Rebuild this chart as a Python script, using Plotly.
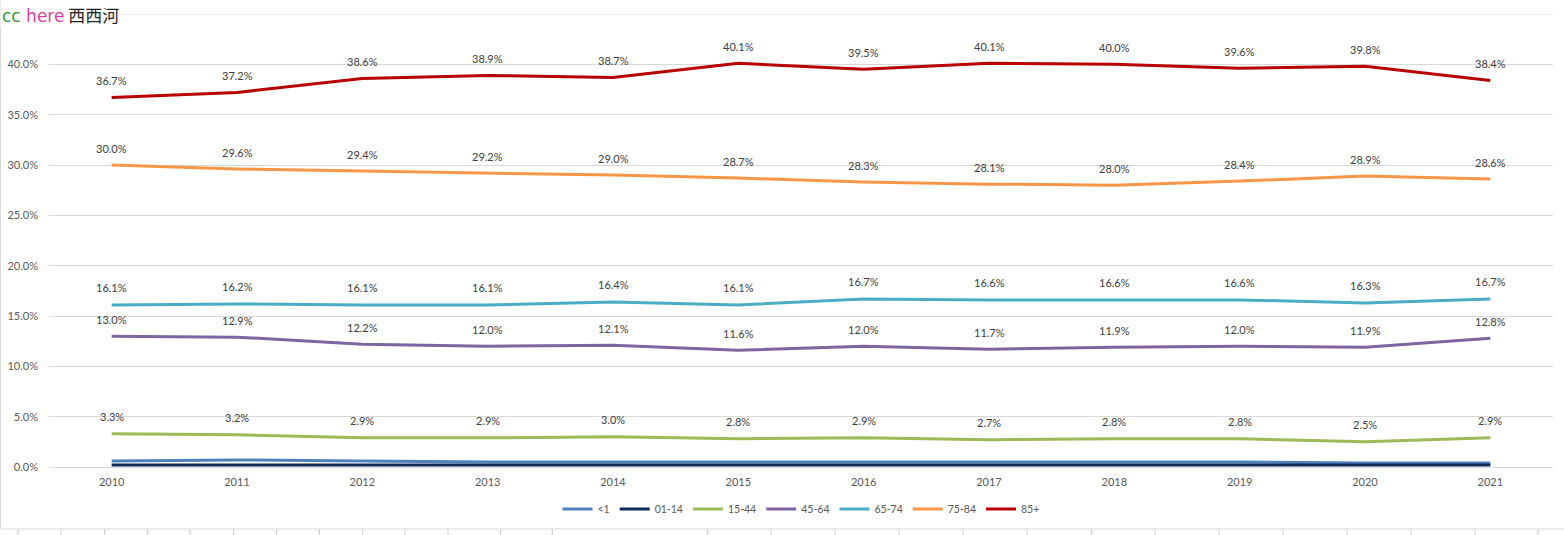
import plotly.graph_objects as go

years = [2010, 2011, 2012, 2013, 2014, 2015, 2016, 2017, 2018, 2019, 2020, 2021]
series_names = ["<1", "01-14", "15-44", "45-64", "65-74", "75-84", "85+"]
v_lt1 = [0.6, 0.7, 0.6, 0.5, 0.5, 0.5, 0.5, 0.5, 0.5, 0.5, 0.4, 0.4]
v_01_14 = [0.2, 0.2, 0.2, 0.2, 0.2, 0.2, 0.2, 0.2, 0.2, 0.2, 0.2, 0.2]
v_15_44 = [3.3, 3.2, 2.9, 2.9, 3.0, 2.8, 2.9, 2.7, 2.8, 2.8, 2.5, 2.9]
v_45_64 = [13.0, 12.9, 12.2, 12.0, 12.1, 11.6, 12.0, 11.7, 11.9, 12.0, 11.9, 12.8]
v_65_74 = [16.1, 16.2, 16.1, 16.1, 16.4, 16.1, 16.7, 16.6, 16.6, 16.6, 16.3, 16.7]
v_75_84 = [30.0, 29.6, 29.4, 29.2, 29.0, 28.7, 28.3, 28.1, 28.0, 28.4, 28.9, 28.6]
v_85p = [36.7, 37.2, 38.6, 38.9, 38.7, 40.1, 39.5, 40.1, 40.0, 39.6, 39.8, 38.4]
labelled = [False, False, True, True, True, True, True]
colors = ["#4F81BD", "#0E2A5E", "#9BBB59", "#8064A2", "#4BACC6", "#F79646", "#B80000"]
y_ticks = [0, 5, 10, 15, 20, 25, 30, 35, 40]
y_max = 45

all_values = [v_lt1, v_01_14, v_15_44, v_45_64, v_65_74, v_75_84, v_85p]

W, H = 1564, 535
ML, MR, MT, MB = 49, 11, 14, 68
PW, PH = W - ML - MR, H - MT - MB

def px_to_paper_x(px):
    return (px - ML) / PW

def px_to_paper_y(py):
    return (H - MB - py) / PH

FONT = "Lato, 'Open Sans', sans-serif"

fig = go.Figure()
for name, vals, col in zip(series_names, all_values, colors):
    fig.add_trace(go.Scatter(
        x=years, y=[v / 100 for v in vals], name=name, mode="lines",
        line=dict(color=col, width=3), hoverinfo="skip"))

annotations = []
for vals, lab in zip(all_values, labelled):
    if not lab:
        continue
    for x, v in zip(years, vals):
        annotations.append(dict(
            x=x, y=v / 100, xref="x", yref="y", text=f"{v:.1f}%",
            showarrow=False, yshift=17,
            font=dict(family=FONT, size=11, color="#404040")))

# watermark
annotations.append(dict(
    x=px_to_paper_x(0), y=px_to_paper_y(0), xref="paper", yref="paper",
    xanchor="left", yanchor="top", showarrow=False, bgcolor="white",
    borderpad=1,
    text=("<span style='color:#3a9a3a'>cc</span>"
          "<span style='color:#e0409a'> here</span>"
          "<span style='color:#222222;font-family:\"Noto Sans CJK SC\"'> 西西河</span>"),
    font=dict(family="DejaVu Sans, sans-serif", size=17)))

shapes = []
line_col = "#d9d9d9"
# top gridline at the axis maximum
shapes.append(dict(type="line", xref="paper", yref="y",
                   x0=px_to_paper_x(118), x1=1, y0=y_max / 100, y1=y_max / 100,
                   line=dict(color=line_col, width=1), layer="below"))
# outer frame (left, bottom)
shapes.append(dict(type="line", xref="paper", yref="paper",
                   x0=px_to_paper_x(0.5), x1=px_to_paper_x(0.5),
                   y0=px_to_paper_y(0), y1=px_to_paper_y(529),
                   line=dict(color=line_col, width=1)))
shapes.append(dict(type="line", xref="paper", yref="paper",
                   x0=px_to_paper_x(0), x1=px_to_paper_x(W),
                   y0=px_to_paper_y(529), y1=px_to_paper_y(529),
                   line=dict(color=line_col, width=1)))
cell_ticks = [18, 61, 104.7, 147.7, 190, 233.7, 276.7, 319.3, 362.7, 405, 448, 500.7,
              552.3, 707.7, 771, 835, 899, 963, 1027, 1091.7, 1155, 1219, 1283,
              1347, 1411, 1475, 1538]
for t in cell_ticks:
    shapes.append(dict(type="line", xref="paper", yref="paper",
                       x0=px_to_paper_x(t), x1=px_to_paper_x(t),
                       y0=px_to_paper_y(529), y1=px_to_paper_y(535),
                       line=dict(color="#c8c8c8", width=1)))

fig.update_layout(
    width=W, height=H,
    margin=dict(l=ML, r=MR, t=MT, b=MB, autoexpand=False),
    paper_bgcolor="white", plot_bgcolor="white",
    font=dict(family=FONT, size=11, color="#595959"),
    xaxis=dict(range=[2009.5, 2021.5], tickvals=years, ticktext=[str(y) for y in years],
               showgrid=False, zeroline=False, showline=True, linecolor="#d9d9d9",
               ticks="", ticklabelstandoff=5,
               tickfont=dict(family=FONT, size=11, color="#595959")),
    yaxis=dict(range=[0, y_max / 100], tickvals=[t / 100 for t in y_ticks], tickformat=".1%",
               showgrid=True, gridcolor="#d9d9d9", gridwidth=1, zeroline=False,
               showline=False, ticks="", ticklabelstandoff=10,
               tickfont=dict(family=FONT, size=11, color="#595959")),
    legend=dict(orientation="h", x=0.5, xanchor="center",
                y=px_to_paper_y(509), yanchor="middle",
                font=dict(family=FONT, size=10.5, color="#595959"),
                itemwidth=30, tracegroupgap=0, bgcolor="rgba(0,0,0,0)"),
    annotations=annotations, shapes=shapes,
)

fig.write_html("out.html", config={"displayModeBar": False},
               post_script="document.body.style.margin='0';document.body.style.overflow='hidden';")
